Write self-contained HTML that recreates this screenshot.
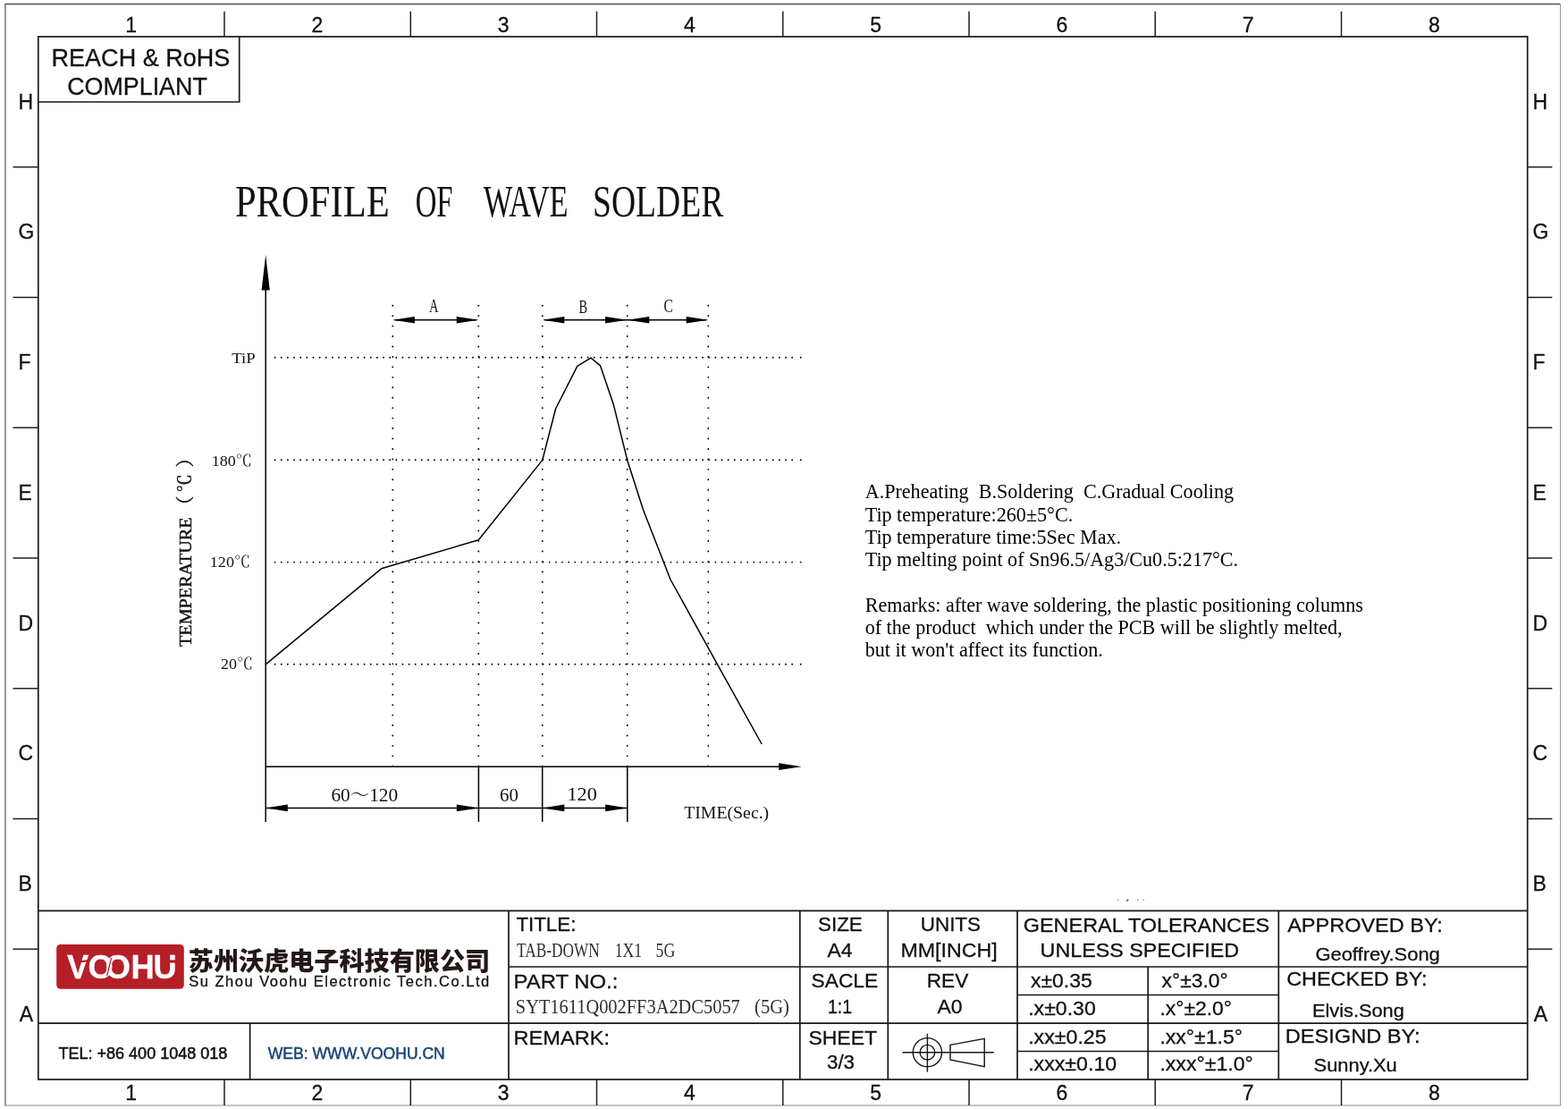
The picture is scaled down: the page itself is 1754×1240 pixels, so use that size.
<!DOCTYPE html>
<html lang="en">
<head>
<meta charset="utf-8">
<title>Profile of wave solder</title>
<style>
html,body{margin:0;padding:0;background:#fff;}
body{width:1754px;height:1240px;overflow:hidden;}
svg{display:block;position:absolute;left:0;top:0;}
.s{font-family:"Liberation Sans",sans-serif;fill:#111;stroke:#111;stroke-width:.3px;}
.t{font-family:"Liberation Serif",serif;fill:#000;}
.m{font-family:"Liberation Serif","Noto Serif CJK SC",serif;fill:#111;}
.c{font-family:"Liberation Sans","Noto Sans CJK SC",sans-serif;fill:#231815;}
.ln{stroke:#1a1718;stroke-width:1.7;fill:none;}
.th{stroke:#1a1718;stroke-width:1.45;fill:none;}
.ch{stroke:#000;stroke-width:1.5;fill:none;}
.dot{stroke:#000;stroke-width:1.9;stroke-linecap:round;fill:none;}
</style>
</head>
<body>
<svg width="1754" height="1240" viewBox="0 0 1754 1240">
<rect x="0" y="0" width="1754" height="1240" fill="#ffffff"/>

<g id="outer-frame">
<line x1="5.5" y1="4.5" x2="1746" y2="4.5" stroke="#222" stroke-width="1.1"/>
<line x1="6" y1="4" x2="6" y2="1236.5" stroke="#444" stroke-width="1.1"/>
<line x1="1745.5" y1="4" x2="1745.5" y2="1236.5" stroke="#9a9a9a" stroke-width="1.1"/>
<line x1="5.5" y1="1236" x2="1746" y2="1236" stroke="#8c8c8c" stroke-width="1.2"/>
</g>
<g id="inner-frame">
<rect class="ln" x="42.8" y="41.0" width="1665.9" height="1166.0"/>
<line class="th" x1="251.0" y1="12.8" x2="251.0" y2="41.0"/>
<line class="th" x1="251.0" y1="1207.0" x2="251.0" y2="1236"/>
<line class="th" x1="14.5" y1="186.8" x2="42.8" y2="186.8"/>
<line class="th" x1="1708.7" y1="186.8" x2="1736.3" y2="186.8"/>
<line class="th" x1="459.3" y1="12.8" x2="459.3" y2="41.0"/>
<line class="th" x1="459.3" y1="1207.0" x2="459.3" y2="1236"/>
<line class="th" x1="14.5" y1="332.5" x2="42.8" y2="332.5"/>
<line class="th" x1="1708.7" y1="332.5" x2="1736.3" y2="332.5"/>
<line class="th" x1="667.5" y1="12.8" x2="667.5" y2="41.0"/>
<line class="th" x1="667.5" y1="1207.0" x2="667.5" y2="1236"/>
<line class="th" x1="14.5" y1="478.2" x2="42.8" y2="478.2"/>
<line class="th" x1="1708.7" y1="478.2" x2="1736.3" y2="478.2"/>
<line class="th" x1="875.8" y1="12.8" x2="875.8" y2="41.0"/>
<line class="th" x1="875.8" y1="1207.0" x2="875.8" y2="1236"/>
<line class="th" x1="14.5" y1="624.0" x2="42.8" y2="624.0"/>
<line class="th" x1="1708.7" y1="624.0" x2="1736.3" y2="624.0"/>
<line class="th" x1="1084.0" y1="12.8" x2="1084.0" y2="41.0"/>
<line class="th" x1="1084.0" y1="1207.0" x2="1084.0" y2="1236"/>
<line class="th" x1="14.5" y1="769.8" x2="42.8" y2="769.8"/>
<line class="th" x1="1708.7" y1="769.8" x2="1736.3" y2="769.8"/>
<line class="th" x1="1292.2" y1="12.8" x2="1292.2" y2="41.0"/>
<line class="th" x1="1292.2" y1="1207.0" x2="1292.2" y2="1236"/>
<line class="th" x1="14.5" y1="915.5" x2="42.8" y2="915.5"/>
<line class="th" x1="1708.7" y1="915.5" x2="1736.3" y2="915.5"/>
<line class="th" x1="1500.5" y1="12.8" x2="1500.5" y2="41.0"/>
<line class="th" x1="1500.5" y1="1207.0" x2="1500.5" y2="1236"/>
<line class="th" x1="14.5" y1="1061.2" x2="42.8" y2="1061.2"/>
<line class="th" x1="1708.7" y1="1061.2" x2="1736.3" y2="1061.2"/>
</g>
<g id="zone-labels" class="s" font-size="23" text-anchor="middle">
<text x="146.7" y="35.7">1</text>
<text x="146.7" y="1229.8">1</text>
<text x="355.0" y="35.7">2</text>
<text x="355.0" y="1229.8">2</text>
<text x="563.2" y="35.7">3</text>
<text x="563.2" y="1229.8">3</text>
<text x="771.4" y="35.7">4</text>
<text x="771.4" y="1229.8">4</text>
<text x="979.7" y="35.7">5</text>
<text x="979.7" y="1229.8">5</text>
<text x="1187.9" y="35.7">6</text>
<text x="1187.9" y="1229.8">6</text>
<text x="1396.1" y="35.7">7</text>
<text x="1396.1" y="1229.8">7</text>
<text x="1604.4" y="35.7">8</text>
<text x="1604.4" y="1229.8">8</text>
<text x="20.5" y="121.5" text-anchor="start">H</text>
<text x="1714.4" y="121.5" text-anchor="start">H</text>
<text x="20.5" y="267.2" text-anchor="start">G</text>
<text x="1714.4" y="267.2" text-anchor="start">G</text>
<text x="20.5" y="413.0" text-anchor="start">F</text>
<text x="1714.4" y="413.0" text-anchor="start">F</text>
<text x="20.5" y="558.7" text-anchor="start">E</text>
<text x="1714.4" y="558.7" text-anchor="start">E</text>
<text x="20.5" y="704.5" text-anchor="start">D</text>
<text x="1714.4" y="704.5" text-anchor="start">D</text>
<text x="20.5" y="850.2" text-anchor="start">C</text>
<text x="1714.4" y="850.2" text-anchor="start">C</text>
<text x="20.5" y="996.0" text-anchor="start">B</text>
<text x="1714.4" y="996.0" text-anchor="start">B</text>
<text x="21.8" y="1141.7" text-anchor="start">A</text>
<text x="1715.7" y="1141.7" text-anchor="start">A</text>
</g>
<g id="reach">
<path class="ln" d="M267.7 41.0 V114 H42.8"/>
<text class="s" font-size="27" x="57.6" y="73.6" textLength="199.6" lengthAdjust="spacingAndGlyphs">REACH &amp; RoHS</text>
<text class="s" font-size="27" x="75.2" y="106.4" textLength="156.6" lengthAdjust="spacingAndGlyphs">COMPLIANT</text>
</g>
<g id="heading">
<text class="m" font-size="51" y="242.3"><tspan x="262.9" textLength="172.8" lengthAdjust="spacingAndGlyphs">PROFILE</tspan> <tspan x="464.7" textLength="41.9" lengthAdjust="spacingAndGlyphs">OF</tspan> <tspan x="540.7" textLength="94.9" lengthAdjust="spacingAndGlyphs">WAVE</tspan> <tspan x="663.1" textLength="146.1" lengthAdjust="spacingAndGlyphs">SOLDER</tspan></text>
</g>
<g id="chart">
<line class="dot" x1="307.6" y1="399.7" x2="887" y2="399.7" stroke-dasharray="0 7.142"/>
<line class="dot" x1="895.7" y1="399.7" x2="895.71" y2="399.7"/>
<line class="dot" x1="307.6" y1="514.3" x2="887" y2="514.3" stroke-dasharray="0 7.142"/>
<line class="dot" x1="895.7" y1="514.3" x2="895.71" y2="514.3"/>
<line class="dot" x1="307.6" y1="628.6" x2="887" y2="628.6" stroke-dasharray="0 7.142"/>
<line class="dot" x1="895.7" y1="628.6" x2="895.71" y2="628.6"/>
<line class="dot" x1="307.6" y1="742.8" x2="887" y2="742.8" stroke-dasharray="0 7.142"/>
<line class="dot" x1="895.7" y1="742.8" x2="895.71" y2="742.8"/>
<line class="dot" x1="439.3" y1="341.7" x2="439.3" y2="857" stroke-dasharray="0 11.447"/>
<line class="dot" x1="535.3" y1="341.7" x2="535.3" y2="857" stroke-dasharray="0 11.447"/>
<line class="dot" x1="606.8" y1="341.7" x2="606.8" y2="857" stroke-dasharray="0 11.447"/>
<line class="dot" x1="701.7" y1="341.7" x2="701.7" y2="857" stroke-dasharray="0 11.447"/>
<line class="dot" x1="792.3" y1="341.7" x2="792.3" y2="857" stroke-dasharray="0 11.447"/>
<line class="ch" x1="297.2" y1="320" x2="297.2" y2="918.9"/>
<polygon points="297.2,285 292.59999999999997,324.4 301.8,324.4" fill="#000"/>
<line class="ch" x1="297.2" y1="857.2" x2="875" y2="857.2"/>
<polygon points="896.8,857.2 871.2,853.3000000000001 871.2,861.1" fill="#000"/>
<polyline class="ch" stroke-linejoin="round" points="297.2,742.8 426.6,635.8 535.3,603.7 606.8,514.4 621.6,457 645.8,409.4 661,400.2 671.5,408.8 686.2,451.9 701.7,514.4 719.5,570 750,648 802.5,742.8 852.1,832"/>
<line class="ch" x1="441.3" y1="357.7" x2="533.3" y2="357.7"/>
<polygon points="439.3,357.7 463.9,353.9 463.9,361.5" fill="#000"/>
<polygon points="535.3,357.7 510.7,353.9 510.7,361.5" fill="#000"/>
<line class="ch" x1="608.8" y1="357.7" x2="790.3" y2="357.7"/>
<polygon points="606.8,357.7 631.4,353.9 631.4,361.5" fill="#000"/>
<polygon points="701.7,357.7 677.1,353.9 677.1,361.5" fill="#000"/>
<polygon points="701.7,357.7 726.3,353.9 726.3,361.5" fill="#000"/>
<polygon points="792.3,357.7 767.7,353.9 767.7,361.5" fill="#000"/>
<line class="ch" x1="535.4" y1="857.2" x2="535.4" y2="918.9"/>
<line class="ch" x1="606.7" y1="857.2" x2="606.7" y2="918.9"/>
<line class="ch" x1="701.8" y1="857.2" x2="701.8" y2="918.9"/>
<line class="ch" x1="297.2" y1="903.4" x2="701.8" y2="903.4"/>
<polygon points="297.2,903.4 321.8,899.6 321.8,907.1999999999999" fill="#000"/>
<polygon points="535.4,903.4 510.8,899.6 510.8,907.1999999999999" fill="#000"/>
<polygon points="606.7,903.4 631.3,899.6 631.3,907.1999999999999" fill="#000"/>
<polygon points="701.8,903.4 677.2,899.6 677.2,907.1999999999999" fill="#000"/>
<g class="m" text-anchor="middle">
<text font-size="20" x="485.4" y="348.9" textLength="10.6" lengthAdjust="spacingAndGlyphs">A</text>
<text font-size="20" x="652.4" y="350" textLength="9.6" lengthAdjust="spacingAndGlyphs">B</text>
<text font-size="20.6" x="747.8" y="349.3" textLength="10.4" lengthAdjust="spacingAndGlyphs">C</text>
</g>
<g class="m" font-size="17.5" text-anchor="end">
<text x="285.8" y="406.1" textLength="26.6" lengthAdjust="spacingAndGlyphs">TiP</text>
<text x="281.9" y="520.7" textLength="45.2" lengthAdjust="spacingAndGlyphs">180℃</text>
<text x="280" y="634.1" textLength="45.2" lengthAdjust="spacingAndGlyphs">120℃</text>
<text x="283" y="748.1" textLength="36" lengthAdjust="spacingAndGlyphs">20℃</text>
</g>
<g class="m" font-size="20.5">
<text x="370.4" y="895.8" textLength="74.8" lengthAdjust="spacingAndGlyphs">60～120</text>
<text x="559" y="895.8" textLength="20.8" lengthAdjust="spacingAndGlyphs">60</text>
<text x="634.4" y="894.5" textLength="33.4" lengthAdjust="spacingAndGlyphs">120</text>
<text x="765.2" y="915" font-size="19.6" textLength="95" lengthAdjust="spacingAndGlyphs">TIME(Sec.)</text>
</g>
<text class="m" font-size="19.6" stroke="#111" stroke-width="0.45" transform="translate(214.3 723) rotate(-90)"><tspan x="0" textLength="144.6" lengthAdjust="spacingAndGlyphs">TEMPERATURE</tspan><tspan x="148 172.6 200.4" font-size="20.5">（℃）</tspan></text>
</g>
<g id="notes" class="t" font-size="22.1">
<text x="967.7" y="556.7" xml:space="preserve" style="white-space:pre">A.Preheating  B.Soldering  C.Gradual Cooling</text>
<text x="967.7" y="582.6" xml:space="preserve" style="white-space:pre">Tip temperature:260±5°C.</text>
<text x="967.7" y="607.9" xml:space="preserve" style="white-space:pre">Tip temperature time:5Sec Max.</text>
<text x="967.7" y="633.0" xml:space="preserve" style="white-space:pre">Tip melting point of Sn96.5/Ag3/Cu0.5:217°C.</text>
<text x="967.7" y="684.2" xml:space="preserve" style="white-space:pre">Remarks: after wave soldering, the plastic positioning columns</text>
<text x="967.7" y="709.2" xml:space="preserve" style="white-space:pre">of the product  which under the PCB will be slightly melted,</text>
<text x="967.7" y="733.9" xml:space="preserve" style="white-space:pre">but it won't affect its function.</text>
</g>
<g id="specks" fill="#555"><rect x="1250" y="1005.6" width="1.6" height="1.4" fill="#999"/><rect x="1260" y="1006" width="2.6" height="1.6" transform="rotate(-30 1261 1007)"/><rect x="1272" y="1005.6" width="2" height="1" fill="#777"/><rect x="1278" y="1005.6" width="2" height="1" fill="#888"/></g>
<g id="title-block">
<line class="ln" x1="42.8" y1="1018.3" x2="1708.7" y2="1018.3"/>
<line class="ln" x1="42.8" y1="1144.2" x2="1708.7" y2="1144.2"/>
<line class="ln" x1="569" y1="1081" x2="1708.7" y2="1081"/>
<line class="ln" x1="1138" y1="1112.5" x2="1430.3" y2="1112.5"/>
<line class="ln" x1="1138" y1="1175.5" x2="1430.3" y2="1175.5"/>
<line class="ln" x1="569" y1="1018.3" x2="569" y2="1207.0"/>
<line class="ln" x1="894.8" y1="1018.3" x2="894.8" y2="1207.0"/>
<line class="ln" x1="993.3" y1="1018.3" x2="993.3" y2="1207.0"/>
<line class="ln" x1="1138" y1="1018.3" x2="1138" y2="1207.0"/>
<line class="ln" x1="1430.3" y1="1018.3" x2="1430.3" y2="1207.0"/>
<line class="ln" x1="1284.2" y1="1081" x2="1284.2" y2="1207.0"/>
<line class="ln" x1="279.6" y1="1144.2" x2="279.6" y2="1207.0"/>
</g>
<g id="title-text">
<text class="s" font-size="22.5" x="577.4" y="1041.3" textLength="67" lengthAdjust="spacingAndGlyphs">TITLE:</text>
<text class="m" font-size="24" y="1069.8" fill="#2e2e2e" style="fill:#2e2e2e"><tspan x="578" textLength="92.8" lengthAdjust="spacingAndGlyphs">TAB-DOWN</tspan> <tspan x="687.8" textLength="30.4" lengthAdjust="spacingAndGlyphs">1X1</tspan> <tspan x="733.6" textLength="21.6" lengthAdjust="spacingAndGlyphs">5G</tspan></text>
<text class="s" font-size="22.5" x="574.6" y="1104.6" textLength="116.8" lengthAdjust="spacingAndGlyphs">PART NO.:</text>
<text class="m" font-size="23" y="1133" style="fill:#2e2e2e"><tspan x="576.8" textLength="251" lengthAdjust="spacingAndGlyphs">SYT1611Q002FF3A2DC5057</tspan> <tspan x="844" textLength="39" lengthAdjust="spacingAndGlyphs">(5G)</tspan></text>
<text class="s" font-size="22.5" x="574.6" y="1168.0" textLength="107.4" lengthAdjust="spacingAndGlyphs">REMARK:</text>
<text class="s" font-size="22.5" x="915.0" y="1041.2" textLength="49.8" lengthAdjust="spacingAndGlyphs">SIZE</text>
<text class="s" font-size="22.5" x="925.5" y="1070.0" textLength="28" lengthAdjust="spacingAndGlyphs">A4</text>
<text class="s" font-size="22.5" x="907.6" y="1104.4" textLength="74.6" lengthAdjust="spacingAndGlyphs">SACLE</text>
<text class="s" font-size="22.5" x="926.0" y="1132.7" textLength="27" lengthAdjust="spacingAndGlyphs">1:1</text>
<text class="s" font-size="22.5" x="904.4" y="1167.7" textLength="76.6" lengthAdjust="spacingAndGlyphs">SHEET</text>
<text class="s" font-size="22.5" x="925.0" y="1195.2" textLength="31" lengthAdjust="spacingAndGlyphs">3/3</text>
<text class="s" font-size="22.5" x="1029.8" y="1041.2" textLength="67.2" lengthAdjust="spacingAndGlyphs">UNITS</text>
<text class="s" font-size="22.5" x="1007.4" y="1070.0" textLength="108.2" lengthAdjust="spacingAndGlyphs">MM[INCH]</text>
<text class="s" font-size="22.5" x="1036.8" y="1104.4" textLength="46.4" lengthAdjust="spacingAndGlyphs">REV</text>
<text class="s" font-size="22.5" x="1048.5" y="1132.7" textLength="28" lengthAdjust="spacingAndGlyphs">A0</text>
<text class="s" font-size="22.5" x="1144.8" y="1041.5" textLength="275.4" lengthAdjust="spacingAndGlyphs">GENERAL TOLERANCES</text>
<text class="s" font-size="22.5" x="1163.6" y="1069.9" textLength="222.4" lengthAdjust="spacingAndGlyphs">UNLESS SPECIFIED</text>
<text class="s" font-size="22.5" x="1153.0" y="1104.4" textLength="68.8" lengthAdjust="spacingAndGlyphs">x±0.35</text>
<text class="s" font-size="22.5" x="1150.2" y="1135.3" textLength="75.6" lengthAdjust="spacingAndGlyphs">.x±0.30</text>
<text class="s" font-size="22.5" x="1150.2" y="1167.0" textLength="87.4" lengthAdjust="spacingAndGlyphs">.xx±0.25</text>
<text class="s" font-size="22.5" x="1150.2" y="1197.0" textLength="99" lengthAdjust="spacingAndGlyphs">.xxx±0.10</text>
<text class="s" font-size="22.5" x="1299.6" y="1104.4" textLength="74" lengthAdjust="spacingAndGlyphs">x°±3.0°</text>
<text class="s" font-size="22.5" x="1297.4" y="1135.3" textLength="80.6" lengthAdjust="spacingAndGlyphs">.x°±2.0°</text>
<text class="s" font-size="22.5" x="1297.4" y="1167.0" textLength="92.6" lengthAdjust="spacingAndGlyphs">.xx°±1.5°</text>
<text class="s" font-size="22.5" x="1297.4" y="1197.0" textLength="104.4" lengthAdjust="spacingAndGlyphs">.xxx°±1.0°</text>
<text class="s" font-size="22.5" x="1440.2" y="1041.6" textLength="173.6" lengthAdjust="spacingAndGlyphs">APPROVED BY:</text>
<text class="s" font-size="21" x="1471.4" y="1074.0" textLength="139.4" lengthAdjust="spacingAndGlyphs">Geoffrey.Song</text>
<text class="s" font-size="22.5" x="1439.2" y="1102.3" textLength="157.4" lengthAdjust="spacingAndGlyphs">CHECKED BY:</text>
<text class="s" font-size="21" x="1468.0" y="1136.8" textLength="102.8" lengthAdjust="spacingAndGlyphs">Elvis.Song</text>
<text class="s" font-size="22.5" x="1437.8" y="1165.6" textLength="150.8" lengthAdjust="spacingAndGlyphs">DESIGND BY:</text>
<text class="s" font-size="21" x="1469.6" y="1198.3" textLength="93.2" lengthAdjust="spacingAndGlyphs">Sunny.Xu</text>
</g>
<g id="projection" class="th">
<line x1="1009.5" y1="1176.7" x2="1111.8" y2="1176.7"/>
<line x1="1037.4" y1="1155.8" x2="1037.4" y2="1198.7"/>
<circle cx="1037.4" cy="1176.7" r="16.1"/>
<circle cx="1037.4" cy="1176.7" r="8.3"/>
<polygon points="1063,1168.4 1101.2,1161.3 1101.2,1192.7 1063,1184.9"/>
</g>
<g id="logo">
<rect x="63.2" y="1056" width="142.6" height="49.8" rx="4.5" ry="4.5" fill="#b51f27"/>
<text x="75.0 98.6 117.8 146.5 171.5" y="1094" font-family="'Liberation Sans',sans-serif" font-weight="bold" font-size="36.3" fill="#fff" stroke="#fff" stroke-width="0.3">VOOHU</text>
<g stroke="#b51f27" fill="none"><line x1="89" y1="1075.4" x2="100.5" y2="1074" stroke-width="2.2"/><line x1="124.6" y1="1071" x2="119.6" y2="1091" stroke-width="1.2"/><line x1="188" y1="1075" x2="196" y2="1075" stroke-width="3.2"/></g>
<text class="c" x="210.8" y="1085" font-size="28" font-weight="900" textLength="337.4" lengthAdjust="spacingAndGlyphs">苏州沃虎电子科技有限公司</text>
<text class="s" x="211.2" y="1103.4" font-size="16.5" textLength="336" lengthAdjust="spacing">Su Zhou Voohu Electronic Tech.Co.Ltd</text>
<text class="s" x="65.4" y="1184" font-size="17.6" style="stroke-width:.5px" textLength="189" lengthAdjust="spacingAndGlyphs">TEL: +86 400 1048 018</text>
<text class="s" x="299.8" y="1184" font-size="17.6" style="fill:#1d4677;stroke:#1d4677;stroke-width:.5px" textLength="198" lengthAdjust="spacingAndGlyphs">WEB: WWW.VOOHU.CN</text>
</g>
</svg>
</body>
</html>
